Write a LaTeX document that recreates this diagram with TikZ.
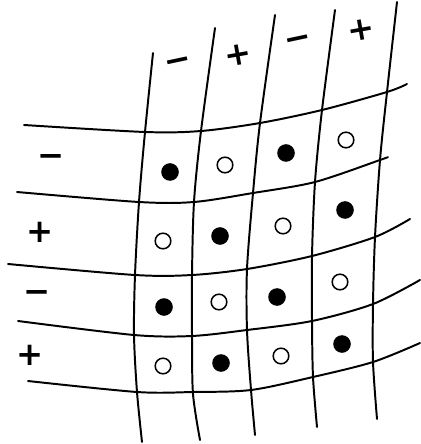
\documentclass[tikz,border=0pt]{standalone}
\usepackage{fontspec}
\newfontfamily\signfont{DejaVu Sans}
\tikzset{
	gline/.style={line width=1.4pt, line cap=round},
	fdot/.style={circle, fill=black, inner sep=0pt, minimum size=0.44cm},
	odot/.style={circle, draw=black, line width=1.1pt, fill=white, inner sep=0pt, minimum size=0.39cm},
	sgn/.style={font=\signfont\bfseries\fontsize{23}{23}\selectfont, inner sep=0pt}
}

\begin{document}
\begin{tikzpicture}[x=0.025cm, y=-0.025cm]
		\useasboundingbox (0,0) rectangle (420,444);
		% curved columns
		\draw[gline] plot[smooth] coordinates {(153,53) (145,132) (139,202) (135,275) (134,335) (137,392) (142,442)};
		\draw[gline] plot[smooth] coordinates {(215,28) (201,131) (194,202) (192,275) (192,336) (193,394) (200,440)};
		\draw[gline] plot[smooth] coordinates {(275,15) (260,123) (253,193) (247,269) (247,330) (251,390) (255,435)};
		\draw[gline] plot[smooth] coordinates {(335,10) (322,110) (315,182) (312,256) (312,321) (313,377) (317,427)};
		\draw[gline] plot[smooth] coordinates {(397,2) (387,92) (380,160) (375,237) (373,304) (373,362) (377,419)};
		% curved rows
		\draw[gline] plot[smooth] coordinates {(24,125) (145,132) (201,131) (260,123) (322,110) (387,92) (407,84)};
		\draw[gline] plot[smooth] coordinates {(17,192) (139,202) (194,202) (253,193) (315,182) (380,160) (388,157)};
		\draw[gline] plot[smooth] coordinates {(8,264) (135,275) (192,275) (247,269) (312,256) (375,237) (410,219)};
		\draw[gline] plot[smooth] coordinates {(18,321) (134,335) (192,336) (247,330) (312,321) (373,304) (420,280)};
		\draw[gline] plot[smooth] coordinates {(28,381) (137,392) (193,392) (251,390) (313,377) (373,362) (420,343)};
		% row signs
		\node[sgn] (r1) at (51,161) {−};
		\node[sgn] (r2) at (40,232) {+};
		\node[sgn] (r3) at (37,296) {−};
		\node[sgn] (r4) at (30,355) {+};
		% column signs
		\node[sgn, rotate=12] (c1) at (179,65) {−};
		\node[sgn, rotate=10] (c2) at (238,55) {+};
		\node[sgn, rotate=12] (c3) at (298,43) {−};
		\node[sgn, rotate=10] (c4) at (361,30) {+};
		% dots
		\node[fdot] (d11) at (170,172) {};
		\node[odot] (d12) at (225,165) {};
		\node[fdot] (d13) at (286,153) {};
		\node[odot] (d14) at (346,140) {};
		\node[odot] (d21) at (163,241) {};
		\node[fdot] (d22) at (220,236) {};
		\node[odot] (d23) at (283,226) {};
		\node[fdot] (d24) at (345,210) {};
		\node[fdot] (d31) at (164,307) {};
		\node[odot] (d32) at (219,302) {};
		\node[fdot] (d33) at (277,297) {};
		\node[odot] (d34) at (340,282) {};
		\node[odot] (d41) at (163,366) {};
		\node[fdot] (d42) at (221,363) {};
		\node[odot] (d43) at (281,356) {};
		\node[fdot] (d44) at (342,344) {};
	\end{tikzpicture}
\end{document}
